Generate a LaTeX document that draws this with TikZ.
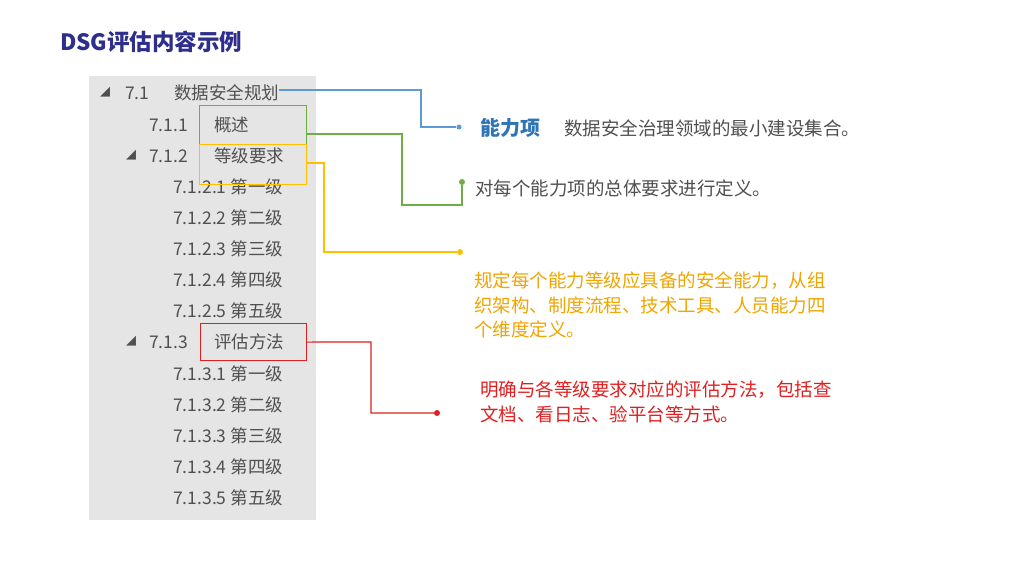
\documentclass[tikz,border=0pt]{standalone}
\usepackage{fontspec}
\setmainfont{Noto Sans CJK SC}
\newfontfamily\sym{DejaVu Sans}
\definecolor{ttl}{HTML}{2E2E8C}
\definecolor{txt}{HTML}{505050}
\definecolor{cb}{HTML}{5B9BD5}
\definecolor{cbt}{HTML}{2E75B6}
\definecolor{cg}{HTML}{70AD47}
\definecolor{cy}{HTML}{FFC000}
\definecolor{cyt}{HTML}{F0A500}
\definecolor{cr}{HTML}{E02020}
\begin{document}
\begin{tikzpicture}[x=1pt,y=-1pt,
  it/.style={anchor=west,text=txt,font=\fontsize{17.5}{20}\selectfont,inner sep=0pt},
  tri/.style={anchor=west,text=txt,font=\sym\fontsize{13}{14}\selectfont,inner sep=0pt},
  lab/.style={anchor=west,font=\fontsize{18.5}{24.5}\selectfont,inner sep=0pt,align=left},
  ln/.style={line width=1.2pt},
  dot/.style={circle,fill,inner sep=0pt,minimum size=6pt}]
\useasboundingbox (0,0) rectangle (1024,576);
\fill[white] (0,0) rectangle (1024,576);
\node[anchor=west,text=ttl,font=\bfseries\fontsize{22.5}{26}\selectfont,inner sep=0pt] (title) at (60,42) {DSG评估内容示例};
\fill[black!10] (89,76) rectangle (316,520);
\node[tri] (t1) at (100,92) {◢};
\node[it] (n71) at (125,93) {7.1};
\node[it] (n71t) at (174,93) {数据安全规划};
\node[it] (n711) at (149,125) {7.1.1};
\node[it] (n711t) at (214,125) {概述};
\node[tri] (t2) at (126,155) {◢};
\node[it] (n712) at (149,156) {7.1.2};
\node[it] (n712t) at (214,156) {等级要求};
\foreach \i/\y/\t in {1/187/第一级,2/218/第二级,3/249/第三级,4/280/第四级,5/311/第五级}
  \node[it] (a\i) at (173,\y) {7.1.2.\i\ \t};
\node[tri] (t3) at (126,341) {◢};
\node[it] (n713) at (149,342) {7.1.3};
\node[it] (n713t) at (214,342) {评估方法};
\foreach \i/\y/\t in {1/374/第一级,2/405/第二级,3/436/第三级,4/467/第四级,5/498/第五级}
  \node[it] (b\i) at (173,\y) {7.1.3.\i\ \t};
\node[draw=cg,ln,minimum width=107pt,minimum height=39pt,anchor=north west] (gb) at (199,105) {};
\node[draw=cy,ln,minimum width=107pt,minimum height=40pt,anchor=north west] (yb) at (199,144) {};
\node[draw=cr,ln,minimum width=106pt,minimum height=37pt,anchor=north west] (rb) at (200,323) {};
% blue
\node[dot,fill=cb,minimum size=5pt] (bd) at (459,127) {};
\draw[cb,ln] (n71t.east |- 0,90) -- (421,90) |- (bd);
\node[lab,text=cbt,font=\bfseries\fontsize{20}{24}\selectfont] (bl) at (480,128) {能力项};
\node[lab,text=txt] (bt) at (564,128) {数据安全治理领域的最小建设集合。};
% green
\node[dot,fill=cg] (gd) at (462,182) {};
\draw[cg,ln] (gb.east |- 0,134) -- (402,134) -- (402,205) -- (462,205) -- (gd);
\node[lab,text=txt] (gt) at (475,188) {对每个能力项的总体要求进行定义。};
% yellow
\node[dot,fill=cy] (yd) at (460,252) {};
\draw[cy,ln] (yb.east |- 0,163) -- (324,163) |- (yd);
\node[lab,text=cyt,anchor=north west] (yt) at (474,272) {规定每个能力等级应具备的安全能力，从组\\织架构、制度流程、技术工具、人员能力四\\个维度定义。};
% red
\node[dot,fill=cr] (rd) at (437,413) {};
\draw[cr,ln] (rb.east) -- (371,342) |- (rd);
\node[lab,text=cr,anchor=north west] (rt) at (480,381) {明确与各等级要求对应的评估方法，包括查\\文档、看日志、验平台等方式。};
\end{tikzpicture}
\end{document}
